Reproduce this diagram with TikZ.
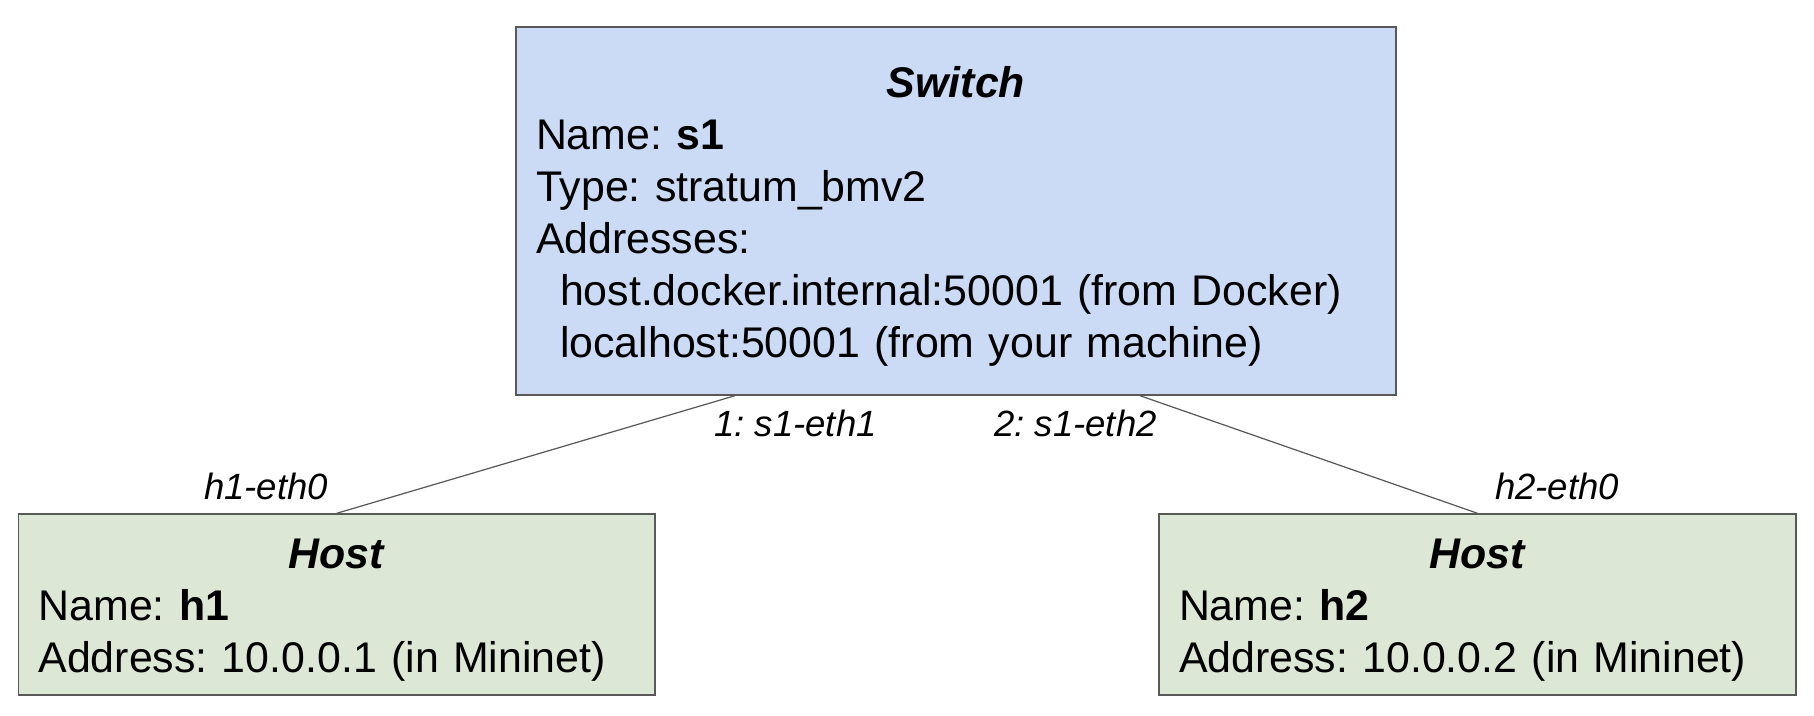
\documentclass[tikz,border=0pt]{standalone}
\usepackage{fontspec}
\setmainfont{Liberation Sans}
\frenchspacing
\definecolor{switchblue}{HTML}{CBDAF5}
\definecolor{hostgreen}{HTML}{DCE8D5}
\definecolor{edgegray}{HTML}{595959}
\newcommand{\boxtitle}[1]{\makebox[\linewidth]{\rule{0pt}{0.82cm}\textbf{\textit{#1}}}}
\tikzset{
  box/.style={rectangle, draw=edgegray, line width=0.8pt, align=left,
    inner xsep=0.4cm, inner ysep=0pt, font=\fontsize{24.4}{29.6}\selectfont},
  link/.style={draw=edgegray, line width=0.7pt},
  port/.style={font=\fontsize{20.8}{24}\selectfont\itshape, inner sep=0pt}
}
\begin{document}
\begin{tikzpicture}
  \useasboundingbox (0,0) rectangle (36.28,14.32);
  \node[box, fill=switchblue, text width=16.8cm, minimum height=7.36cm] (sw) at (19.12,10.10)
    {\boxtitle{Switch}\\
     Name: \textbf{s1}\\
     Type: stratum\_bmv2\\
     Addresses:\\
     \hspace*{0.48cm}host.docker.internal:50001 (from Docker)\\
     \hspace*{0.48cm}localhost:50001 (from your machine)};
  \node[box, fill=hostgreen, text width=11.93cm, minimum height=3.62cm] (h1) at (6.735,2.23)
    {\boxtitle{Host}\\
     Name: \textbf{h1}\\
     Address: 10.0.0.1 (in Mininet)};
  \node[box, fill=hostgreen, text width=11.94cm, minimum height=3.62cm] (h2) at (29.55,2.23)
    {\boxtitle{Host}\\
     Name: \textbf{h2}\\
     Address: 10.0.0.2 (in Mininet)};
  \draw[link] ([xshift=-4.42cm]sw.south) -- (h1.north);
  \draw[link] ([xshift=3.68cm]sw.south) -- (h2.north);
  \node[port] (s1p1) at (15.91,5.86) {1: s1-eth1};
  \node[port] (s1p2) at (21.51,5.86) {2: s1-eth2};
  \node[port] (h1p0) at (5.32,4.60) {h1-eth0};
  \node[port] (h2p0) at (31.14,4.60) {h2-eth0};
\end{tikzpicture}
\end{document}
